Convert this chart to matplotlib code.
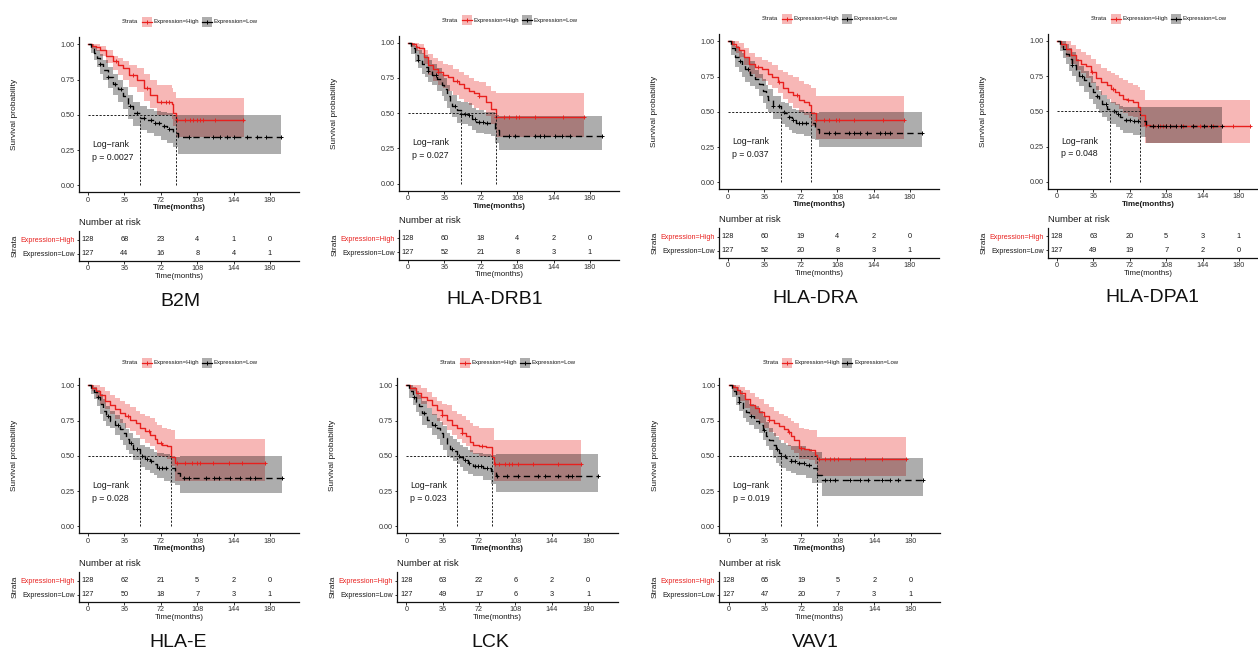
import numpy as np
import matplotlib
matplotlib.use("Agg")
import matplotlib.pyplot as plt
from matplotlib.patches import Rectangle

# ----------------------------------------------------------------- data
GENES = ["B2M", "HLA-DRB1", "HLA-DRA", "HLA-DPA1", "HLA-E", "LCK", "VAV1"]
P_VALUES = ["0.0027", "0.027", "0.037", "0.048", "0.028", "0.023", "0.019"]
RISK_TIMES = [0, 36, 72, 108, 144, 180]
RISK_HIGH = [[128, 68, 23, 4, 1, 0], [128, 60, 18, 4, 2, 0], [128, 60, 19, 4, 2, 0],
             [128, 63, 20, 5, 3, 1], [128, 62, 21, 5, 2, 0], [128, 63, 22, 6, 2, 0],
             [128, 65, 19, 5, 2, 0]]
RISK_LOW = [[127, 44, 16, 8, 4, 1], [127, 52, 21, 8, 3, 1], [127, 52, 20, 8, 3, 1],
            [127, 49, 19, 7, 2, 0], [127, 50, 18, 7, 3, 1], [127, 49, 17, 6, 3, 1],
            [127, 47, 20, 7, 3, 1]]
X_TICKS = [0, 36, 72, 108, 144, 180]
Y_TICKS = [0.0, 0.25, 0.5, 0.75, 1.0]

# --- B2M
B2M_HIGH_T = [0, 4, 8, 12, 18, 25, 30, 35, 41, 48, 55, 61, 68, 83, 84, 87, 154]
B2M_HIGH_S = [1, .99, .98, .96, .92, .88, .85, .83, .78, .75, .69, .64, .59, .58, .51, .46, .46]
B2M_HIGH_UP = [1, 1, 1, .99, .96, .92, .90, .88, .855, .83, .79, .75, .71, .69, .66, .62, .62]
B2M_HIGH_LO = [1, .97, .95, .92, .87, .82, .78, .75, .70, .66, .60, .55, .50, .47, .42, .345, .345]
B2M_HIGH_CENS = [28, 45, 58, 72, 77, 80, 88, 96, 101, 104, 107.5, 111, 114, 125.6, 153.6]
B2M_LOW_T = [0, 3, 6, 9, 12, 15, 20, 25, 30, 35, 40, 45, 51, 58, 65, 72, 78, 84, 89, 191]
B2M_LOW_S = [1, .97, .94, .90, .86, .82, .77, .72, .68, .63, .56, .51, .48, .46, .44, .42, .40, .37, .34, .34]
B2M_LOW_UP = [1, 1, .99, .96, .93, .89, .84, .79, .75, .70, .64, .59, .56, .54, .53, .52, .51, .50, .50, .50]
B2M_LOW_LO = [1, .94, .89, .84, .79, .75, .69, .64, .59, .54, .47, .42, .39, .37, .35, .32, .30, .27, .22, .22]
B2M_LOW_CENS = [12, 20, 27, 33, 42, 48, 55, 62, 66, 70, 75, 80, 100, 124, 131, 137, 144, 157, 167, 176, 191]

# --- HLA-DRB1
DRB1_HIGH_T = [0, 4, 8, 11, 16, 20, 25, 30, 35, 40, 45, 50, 55, 60, 65, 70, 77, 82, 87, 174]
DRB1_HIGH_S = [1, .99, .97, .96, .90, .84, .81, .79, .77, .76, .73, .71, .68, .66, .64, .62, .58, .53, .47, .47]
DRB1_HIGH_UP = [1, 1, 1, .99, .95, .92, .89, .87, .85, .84, .81, .79, .77, .75, .73, .72, .69, .66, .64, .64]
DRB1_HIGH_LO = [1, .97, .94, .92, .85, .77, .73, .70, .68, .66, .63, .60, .58, .56, .54, .52, .48, .42, .33, .33]
DRB1_HIGH_CENS = [30, 48, 70, 87, 95, 100, 106.5, 110, 125.7, 153, 174]
DRB1_LOW_T = [0, 3, 7, 10, 14, 17, 20, 24, 29, 34, 36, 39, 42, 44, 48, 52, 59, 63, 67, 75, 82, 86, 90, 192]
DRB1_LOW_S = [1, .96, .91, .88, .85, .83, .80, .77, .74, .70, .67, .62, .58, .55, .52, .495, .49, .46, .44, .43, .43, .38, .335, .335]
DRB1_LOW_UP = [1, 1, .98, .95, .93, .91, .88, .85, .82, .78, .75, .70, .66, .63, .59, .58, .57, .54, .52, .51, .51, .49, .48, .48]
DRB1_LOW_LO = [1, .92, .86, .82, .78, .76, .72, .70, .66, .62, .59, .54, .50, .47, .43, .42, .41, .38, .36, .35, .34, .29, .24, .24]
DRB1_LOW_CENS = [10, 20, 28, 46, 52, 56, 60, 66, 70, 74, 78, 100, 106, 126, 131, 135, 145, 152, 160, 192]

# --- HLA-DRA
DRA_HIGH_T = [0, 4, 8, 11, 16, 21, 27, 34, 40, 44, 49, 54, 59, 64, 70, 75, 80, 82, 87, 174]
DRA_HIGH_S = [1, .98, .96, .94, .89, .84, .82, .80, .77, .75, .71, .67, .64, .62, .585, .57, .55, .49, .44, .44]
DRA_HIGH_UP = [1, 1, 1, .99, .95, .915, .89, .87, .85, .83, .80, .78, .76, .75, .72, .70, .69, .67, .615, .615]
DRA_HIGH_LO = [1, .96, .92, .89, .83, .77, .74, .72, .69, .667, .63, .59, .56, .53, .50, .48, .455, .40, .305, .305]
DRA_HIGH_CENS = [30, 50, 68, 87, 95, 100, 107, 110, 125, 153, 174]
DRA_LOW_T = [0, 3, 7, 11, 14, 17, 22, 27, 31, 35, 38, 40, 45, 52, 56, 60, 63, 67, 75, 82, 86, 90, 192]
DRA_LOW_S = [1, .95, .89, .86, .83, .80, .76, .73, .70, .65, .61, .585, .54, .50, .49, .465, .44, .42, .42, .42, .38, .35, .35]
DRA_LOW_UP = [1, 1, .97, .94, .92, .89, .86, .80, .77, .73, .69, .66, .61, .57, .56, .54, .52, .51, .50, .50, .49, .50, .50]
DRA_LOW_LO = [1, .90, .82, .78, .75, .71, .68, .66, .61, .56, .52, .50, .45, .41, .39, .37, .35, .34, .33, .31, .30, .25, .25]
DRA_LOW_CENS = [12, 20, 45, 50, 55, 60, 64, 70, 73, 77, 100, 106, 120, 125, 131, 137, 150, 155, 160, 192]

# --- HLA-DPA1
DPA1_HIGH_T = [0, 4, 9, 14, 19, 24, 29, 34, 39, 44, 49, 53, 57, 61, 65, 70, 75, 80, 82, 87, 92, 191]
DPA1_HIGH_S = [1, .98, .94, .90, .865, .84, .82, .78, .74, .71, .69, .66, .64, .62, .59, .58, .57, .535, .476, .405, .40, .40]
DPA1_HIGH_UP = [1, 1, 1, .97, .94, .92, .90, .87, .84, .81, .79, .77, .76, .74, .72, .70, .69, .677, .65, .58, .58, .58]
DPA1_HIGH_LO = [1, .95, .89, .84, .795, .77, .74, .70, .653, .62, .59, .56, .547, .52, .49, .47, .46, .44, .39, .276, .276, .276]
DPA1_HIGH_CENS = [35, 55, 70, 88, 95, 101.6, 105, 108, 112, 125, 134.7, 141, 154, 174, 191]
DPA1_LOW_T = [0, 3, 6, 9, 12, 15, 19, 22, 27, 32, 36, 39, 42, 45, 49, 52, 58, 62, 65, 75, 82, 88, 163]
DPA1_LOW_S = [1, .97, .94, .91, .87, .83, .79, .75, .72, .68, .64, .61, .58, .55, .52, .50, .48, .46, .44, .43, .43, .394, .394]
DPA1_LOW_UP = [1, 1, 1, .98, .95, .92, .87, .82, .79, .75, .71, .68, .645, .62, .59, .57, .55, .54, .535, .535, .535, .535, .535]
DPA1_LOW_LO = [1, .93, .88, .84, .79, .75, .71, .68, .64, .59, .55, .52, .49, .46, .43, .41, .39, .37, .35, .33, .32, .276, .276]
DPA1_LOW_CENS = [15, 25, 40, 48, 56, 60, 68, 72, 76, 80, 95, 100, 108, 112, 118, 123, 135, 145, 152, 163]

# --- HLA-E
HLAE_HIGH_T = [0, 4, 8, 12, 17, 22, 27, 32, 37, 42, 47, 51, 56, 61, 66, 68, 73, 78, 82, 86, 175]
HLAE_HIGH_S = [1, .98, .96, .93, .89, .86, .83, .80, .78, .755, .73, .70, .675, .65, .62, .59, .58, .566, .49, .45, .45]
HLAE_HIGH_UP = [1, 1, 1, .99, .96, .93, .91, .89, .87, .845, .82, .80, .78, .765, .74, .72, .70, .69, .684, .618, .618]
HLAE_HIGH_LO = [1, .96, .92, .87, .83, .80, .76, .73, .70, .675, .65, .62, .59, .566, .54, .50, .49, .475, .43, .32, .32]
HLAE_HIGH_CENS = [40, 60, 72, 87.7, 96, 102.5, 107.5, 111, 124, 139, 152, 175]
HLAE_LOW_T = [0, 3, 6, 9, 12, 15, 18, 22, 27, 32, 35, 38, 41, 45, 51, 56, 61, 65, 68, 75, 81, 86, 91, 192]
HLAE_LOW_S = [1, .97, .95, .915, .87, .82, .78, .75, .72, .69, .66, .62, .59, .55, .50, .48, .46, .44, .415, .415, .41, .38, .345, .345]
HLAE_LOW_UP = [1, 1, .99, .97, .94, .90, .85, .816, .79, .76, .73, .69, .66, .627, .58, .56, .55, .53, .52, .51, .50, .495, .50, .50]
HLAE_LOW_LO = [1, .94, .90, .85, .80, .75, .71, .695, .65, .61, .58, .54, .51, .47, .42, .40, .38, .366, .34, .32, .31, .29, .236, .236]
HLAE_LOW_CENS = [10, 20, 30, 43, 48, 53, 58, 62, 70, 73, 77, 95, 100, 117, 125, 130, 140, 150, 160, 165, 192]

# --- LCK
LCK_HIGH_T = [0, 4, 10, 15, 20, 25, 30, 35, 40, 45, 50, 55, 59, 63, 66, 72, 79, 85, 87, 173]
LCK_HIGH_S = [1, .98, .943, .92, .896, .86, .825, .79, .755, .72, .696, .665, .637, .60, .578, .57, .56, .495, .443, .443]
LCK_HIGH_UP = [1, 1, 1, .98, .955, .92, .89, .87, .86, .82, .80, .78, .757, .73, .71, .70, .70, .696, .61, .61]
LCK_HIGH_LO = [1, .96, .90, .87, .837, .79, .75, .72, .684, .65, .62, .59, .566, .53, .51, .50, .49, .47, .318, .318]
LCK_HIGH_CENS = [35, 55, 75, 88, 92, 98, 102, 105, 110, 125, 150, 173]
LCK_LOW_T = [0, 3, 6.6, 10, 13, 16, 20, 25, 30, 33, 36, 40, 43, 46, 50, 53, 56, 61, 66, 76, 84, 89, 190]
LCK_LOW_S = [1, .96, .92, .88, .85, .80, .755, .72, .696, .66, .625, .58, .55, .535, .50, .49, .472, .45, .43, .41, .39, .355, .355]
LCK_LOW_UP = [1, 1, .99, .96, .93, .89, .837, .80, .77, .74, .71, .66, .637, .62, .60, .58, .56, .54, .52, .51, .507, .514, .514]
LCK_LOW_LO = [1, .91, .86, .81, .78, .72, .696, .65, .62, .58, .54, .50, .483, .46, .44, .42, .39, .37, .354, .33, .30, .24, .24]
LCK_LOW_CENS = [8, 18, 28, 45, 52, 58, 62, 68, 71, 74, 80, 90, 100, 110, 130, 137, 150, 160, 164, 190]

# --- VAV1
VAV1_HIGH_T = [0, 4, 8, 11, 16, 21, 26, 30, 35, 40, 45, 50, 55, 59, 62, 65, 70, 75, 80, 85, 87, 175]
VAV1_HIGH_S = [1, .99, .97, .943, .90, .86, .84, .814, .78, .755, .73, .708, .69, .672, .64, .613, .555, .55, .54, .505, .48, .48]
VAV1_HIGH_UP = [1, 1, 1, .99, .97, .943, .92, .90, .87, .849, .82, .80, .78, .767, .75, .73, .70, .69, .684, .684, .632, .632]
VAV1_HIGH_LO = [1, .96, .93, .89, .84, .79, .76, .73, .70, .672, .64, .61, .59, .566, .54, .52, .48, .475, .472, .44, .354, .354]
VAV1_HIGH_CENS = [40, 60, 72, 89, 95, 100, 104, 108, 120, 135, 152, 175]
VAV1_LOW_T = [0, 3, 7, 10, 14, 17, 20, 25, 30, 34, 37, 40, 44, 47, 50, 52, 57, 62, 67, 77, 82, 87, 92, 192]
VAV1_LOW_S = [1, .96, .92, .88, .84, .81, .78, .75, .72, .68, .637, .61, .578, .55, .52, .50, .483, .465, .448, .436, .41, .366, .325, .325]
VAV1_LOW_UP = [1, 1, .99, .96, .93, .90, .87, .85, .82, .78, .74, .70, .66, .63, .61, .59, .58, .57, .566, .55, .53, .53, .483, .483]
VAV1_LOW_LO = [1, .92, .86, .82, .77, .74, .72, .69, .66, .61, .57, .54, .483, .45, .43, .41, .39, .38, .366, .34, .31, .307, .217, .217]
VAV1_LOW_CENS = [10, 22, 35, 48, 52, 56, 62, 66, 70, 75, 80, 95, 100, 105, 120, 130, 138, 152, 160, 168, 192]

HIGH = [
    (B2M_HIGH_T, B2M_HIGH_S, B2M_HIGH_UP, B2M_HIGH_LO, B2M_HIGH_CENS),
    (DRB1_HIGH_T, DRB1_HIGH_S, DRB1_HIGH_UP, DRB1_HIGH_LO, DRB1_HIGH_CENS),
    (DRA_HIGH_T, DRA_HIGH_S, DRA_HIGH_UP, DRA_HIGH_LO, DRA_HIGH_CENS),
    (DPA1_HIGH_T, DPA1_HIGH_S, DPA1_HIGH_UP, DPA1_HIGH_LO, DPA1_HIGH_CENS),
    (HLAE_HIGH_T, HLAE_HIGH_S, HLAE_HIGH_UP, HLAE_HIGH_LO, HLAE_HIGH_CENS),
    (LCK_HIGH_T, LCK_HIGH_S, LCK_HIGH_UP, LCK_HIGH_LO, LCK_HIGH_CENS),
    (VAV1_HIGH_T, VAV1_HIGH_S, VAV1_HIGH_UP, VAV1_HIGH_LO, VAV1_HIGH_CENS),
]
LOW = [
    (B2M_LOW_T, B2M_LOW_S, B2M_LOW_UP, B2M_LOW_LO, B2M_LOW_CENS),
    (DRB1_LOW_T, DRB1_LOW_S, DRB1_LOW_UP, DRB1_LOW_LO, DRB1_LOW_CENS),
    (DRA_LOW_T, DRA_LOW_S, DRA_LOW_UP, DRA_LOW_LO, DRA_LOW_CENS),
    (DPA1_LOW_T, DPA1_LOW_S, DPA1_LOW_UP, DPA1_LOW_LO, DPA1_LOW_CENS),
    (HLAE_LOW_T, HLAE_LOW_S, HLAE_LOW_UP, HLAE_LOW_LO, HLAE_LOW_CENS),
    (LCK_LOW_T, LCK_LOW_S, LCK_LOW_UP, LCK_LOW_LO, LCK_LOW_CENS),
    (VAV1_LOW_T, VAV1_LOW_S, VAV1_LOW_UP, VAV1_LOW_LO, VAV1_LOW_CENS),
]

# ----------------------------------------------------------------- layout
plt.rcParams['font.family'] = ['Liberation Sans', 'DejaVu Sans']
W, H = 1258, 655
DPI = 100
MAIN_LEFT = [78.7, 398.7, 718.7, 1047.7, 78.7, 397.0, 719.3]
Y_ONE = [44.3, 42.7, 41.3, 41.0, 385.3, 385.3, 385.3]
TITLE_X = [180, 495, 815, 1152, 178, 490, 815]
PX_UNIT = 141.0
PX_MONTH = 1.011
XLIM = (-9.2, 209.0)
AX_W = (XLIM[1] - XLIM[0]) * PX_MONTH
RED = '#E8201E'
BLACK = '#000000'
TXT = '#1a1a1a'

fig = plt.figure(figsize=(W / DPI, H / DPI), dpi=DPI)
overlay = fig.add_axes([0, 0, 1, 1], zorder=10)
overlay.set_xlim(0, W)
overlay.set_ylim(H, 0)
overlay.axis('off')
overlay.patch.set_alpha(0)


def px_axes(left, top, width, height):
    return fig.add_axes([left / W, 1 - (top + height) / H, width / W, height / H])


def step_at(t, T, S):
    T = np.asarray(T, float)
    S = np.asarray(S, float)
    idx = np.clip(np.searchsorted(T, t, side='right') - 1, 0, len(T) - 1)
    return S[idx]


def median_time(T, S):
    for t, s in zip(T, S):
        if s <= 0.5:
            return t
    return None


def style_axes(ax):
    for sp in ['top', 'right']:
        ax.spines[sp].set_visible(False)
    for sp in ['left', 'bottom']:
        ax.spines[sp].set_linewidth(0.9)
        ax.spines[sp].set_color('#111111')
    ax.tick_params(axis='both', length=1.8, width=0.6, pad=1.2,
                   labelsize=5.2, colors='#111111', labelcolor='#333333')
    ax.set_xlim(*XLIM)
    ax.set_xticks(X_TICKS)
    ax.set_xticklabels([str(v) for v in X_TICKS])
    ax.patch.set_alpha(0)


for i, gene in enumerate(GENES):
    left = MAIN_LEFT[i]
    y1 = Y_ONE[i]
    top = y1 - 0.05 * PX_UNIT
    height = 1.1 * PX_UNIT
    ax = px_axes(left, top, AX_W, height)
    style_axes(ax)
    ax.set_ylim(-0.05, 1.05)
    ax.set_yticks(Y_TICKS)
    ax.set_yticklabels([f"{v:.2f}" for v in Y_TICKS])

    curves = [(HIGH[i], RED, '-'), (LOW[i], BLACK, '--')]
    for (T, S, UP, LO, C), col, ls in curves:
        ax.fill_between(T, LO, UP, step='post', color=col, alpha=0.32, lw=0)
    for (T, S, UP, LO, C), col, ls in curves:
        line, = ax.step(T, S, where='post', color=col, lw=1.0, ls=ls)
        if ls == '--':
            line.set_dashes((4.5, 3.0))
        ax.plot(C, step_at(C, T, S), ls='none', marker='+', ms=3.5, mew=0.7, color=col)

    med_h = median_time(HIGH[i][0], HIGH[i][1])
    med_l = median_time(LOW[i][0], LOW[i][1])
    meds = [m for m in (med_h, med_l) if m is not None]
    dash_kw = dict(color='#222222', lw=0.7, dashes=(2.2, 1.6))
    ax.plot([0, max(meds)], [0.5, 0.5], **dash_kw)
    for m in meds:
        ax.plot([m, m], [0, 0.5], **dash_kw)

    ax.text(4, 0.29, "Log\u2212rank", fontsize=6.3, color=TXT, va='center', ha='left')
    ax.text(4, 0.20, f"p = {P_VALUES[i]}", fontsize=6.3, color=TXT, va='center', ha='left')

    bottom = top + height
    cx = left + (0 - XLIM[0]) * PX_MONTH + 90 * PX_MONTH
    overlay.text(cx, bottom + 15.3, "Time(months)", fontsize=5.8, fontweight='bold',
                 ha='center', va='center', color=TXT)
    overlay.text(left - 64, top + height / 2, "Survival probability", fontsize=6,
                 rotation=90, ha='center', va='center', color=TXT)

    # legend
    ly = y1 - 22.5
    overlay.text(left + 43, ly, "Strata", fontsize=4.3, ha='left', va='center', color=TXT)
    for k, (col, lab, ls) in enumerate([(RED, "Expression=High", '-'), (BLACK, "Expression=Low", '--')]):
        bx = left + 63 + k * 60
        overlay.add_patch(Rectangle((bx, ly - 5), 10, 10, facecolor=col, alpha=0.32, lw=0))
        overlay.plot([bx, bx + 10], [ly, ly], color=col, lw=0.9)
        overlay.plot([bx + 5], [ly], marker='+', ms=3.2, mew=0.7, color=col)
        overlay.text(bx + 12, ly, lab, fontsize=4.3, ha='left', va='center', color=TXT)

    # risk table
    hy = y1 + 195.5
    rtop = hy - 8.6
    rax = px_axes(left, rtop, AX_W, 30)
    style_axes(rax)
    rax.set_ylim(0.47, 2.61)
    rax.set_yticks([2, 1])
    rax.set_yticklabels(["Expression=High", "Expression=Low"])
    rax.tick_params(axis='y', labelsize=5.1)
    tl = rax.get_yticklabels()
    tl[0].set_color(RED)
    tl[1].set_color(TXT)
    for t, n in zip(RISK_TIMES, RISK_HIGH[i]):
        rax.text(t, 2, str(n), ha='center', va='center', fontsize=5.3, color=TXT)
    for t, n in zip(RISK_TIMES, RISK_LOW[i]):
        rax.text(t, 1, str(n), ha='center', va='center', fontsize=5.3, color=TXT)
    overlay.text(left, rtop - 8.7, "Number at risk", fontsize=6.8, ha='left', va='center', color=TXT)
    overlay.text(cx, rtop + 30 + 15.3, "Time(months)", fontsize=5.8, ha='center', va='center', color=TXT)
    overlay.text(left - 64, rtop + 15, "Strata", fontsize=6, rotation=90,
                 ha='center', va='center', color=TXT)

    overlay.text(TITLE_X[i], y1 + 257, gene, fontsize=14, ha='center', va='center', color='#111111')

fig.savefig("out.png", dpi=DPI, facecolor='white')
